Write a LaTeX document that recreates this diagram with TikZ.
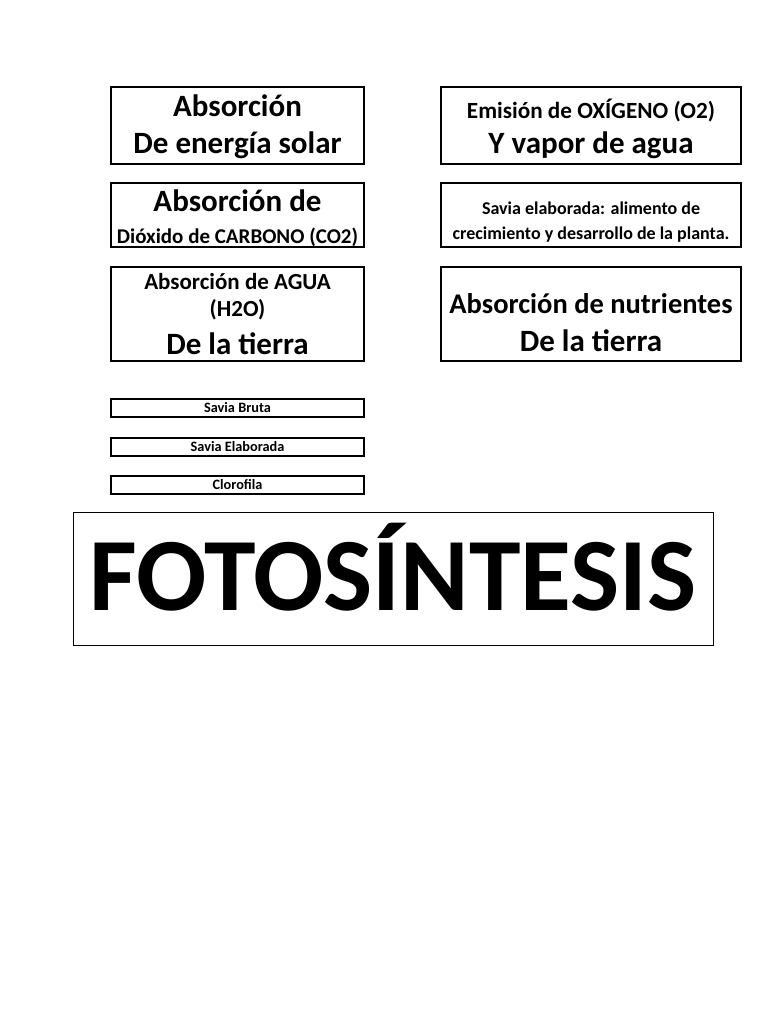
\documentclass[tikz,border=0pt]{standalone}
\usepackage{fontspec}
\setmainfont{Carlito}

\tikzset{
  card/.style={draw=black, line width=1.2pt, fill=white, inner sep=0pt, align=center},
  bigcard/.style={card, minimum width=253pt, minimum height=77pt},
  rightcard/.style={card, minimum width=300pt, minimum height=77pt},
  tag/.style={card, minimum width=253pt, minimum height=18pt, font=\bfseries\fontsize{14.3}{15}\selectfont}
}

\begin{document}
\begin{tikzpicture}[x=1pt, y=-1pt]
			\useasboundingbox (0,0) rectangle (768,1024);
			
			% Left column
			\node[bigcard, text height=57pt, text depth=0pt, font=\bfseries\fontsize{31}{37}\selectfont] (solar) at (237.5,125.5) {Absorción\\ De energía solar};
			\node[bigcard, minimum height=64pt, text height=56.6pt, text depth=0pt, font=\bfseries\fontsize{31}{31.6}\selectfont] (carbono) at (237.5,215) {Absorción de\\ \fontsize{21}{30}\selectfont Dióxido de CARBONO (CO2)};
			\node[bigcard, minimum height=94pt, font=\bfseries\fontsize{23}{27}\selectfont] (agua) at (237.5,314) {Absorción de AGUA\\ (H2O)\\[11pt] \fontsize{31}{36}\selectfont De la tierra};
			
			% Right column
			\node[rightcard, text height=57pt, text depth=0pt, font=\bfseries\fontsize{31}{35}\selectfont] (oxigeno) at (591,125.5) {\fontsize{23.2}{35}\selectfont Emisión de OXÍGENO (O2)\\ Y vapor de agua};
			\node[rightcard, minimum height=64pt, text height=50pt, text depth=0pt, font=\bfseries\fontsize{18}{25}\selectfont] (savia) at (591,215) {Savia elaborada: alimento de\\ crecimiento y desarrollo de la planta.};
			\node[rightcard, minimum height=94pt, text height=75.4pt, text depth=0pt, font=\bfseries\fontsize{28.5}{38.4}\selectfont] (nutrientes) at (591,314) {Absorción de nutrientes\\ \fontsize{31}{39}\selectfont De la tierra};
			
			% Small labels
			\node[tag] (bruta) at (237.5,408) {Savia Bruta};
			\node[tag] (elaborada) at (237.5,447) {Savia Elaborada};
			\node[tag] (clorofila) at (237.5,485) {Clorofila};
			
			% Title
			\node[card, line width=1pt, minimum width=640pt, minimum height=133pt, text height=64pt, text depth=0pt, font=\bfseries\fontsize{104}{110}\selectfont] (titulo) at (393,578.5) {FOTOSÍNTESIS};
		\end{tikzpicture}
\end{document}
